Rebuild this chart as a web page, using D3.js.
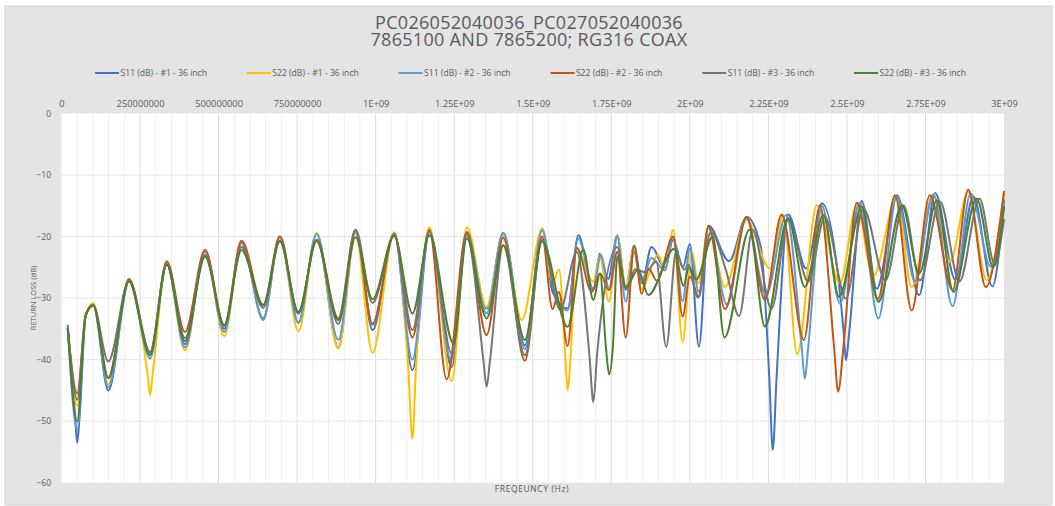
<!DOCTYPE html>
<html>
<head>
<meta charset="utf-8">
<script src="https://cdn.jsdelivr.net/npm/d3@7"></script>
<style>
  body { margin: 0; background: #ffffff; }
  text { font-family: "Open Sans", "DejaVu Sans", sans-serif; fill: #595959; }
</style>
</head>
<body>
<div id="chart"></div>
<script>
// titles and labels
var titleLines = ["PC026052040036_PC027052040036", "7865100 AND 7865200; RG316 COAX"];
var xTitle = "FREQEUNCY (Hz)";
var yTitle = "RETURN LOSS (dB)";
var xTickValues = [0, 250, 500, 750, 1000, 1250, 1500, 1750, 2000, 2250, 2500, 2750, 3000]; // MHz
var xTickLabels = ["0", "250000000", "500000000", "750000000", "1E+09", "1.25E+09", "1.5E+09",
                   "1.75E+09", "2E+09", "2.25E+09", "2.5E+09", "2.75E+09", "3E+09"];
var yTickValues = [0, -10, -20, -30, -40, -50, -60];
var seriesNames = ["S11 (dB) - #1 - 36 inch", "S22 (dB) - #1 - 36 inch", "S11 (dB) - #2 - 36 inch",
                   "S22 (dB) - #2 - 36 inch", "S11 (dB) - #3 - 36 inch", "S22 (dB) - #3 - 36 inch"];

// frequency (MHz) and return loss (dB) at turning points
// (plus a few flank points on the narrow dips)
var s11_1_freq = [20, 43, 50, 58, 77, 101, 149, 215, 282, 335, 393, 457, 518, 573, 642, 695, 754, 812, 881, 936, 990, 1059, 1117, 1171, 1242, 1290, 1353, 1406, 1475, 1530,
  1563, 1611, 1645, 1693, 1713, 1740, 1769, 1796, 1823, 1847, 1878, 1921, 1947, 1978, 2000, 2029, 2059, 2125, 2181, 2226, 2253, 2264, 2276, 2313, 2370, 2420, 2489, 2497, 2508, 2547, 2595, 2659, 2730, 2781, 2845, 2903, 2963, 3000];
var s11_1_db = [-34.5, -49, -53.5, -49, -32.8, -31.1, -45, -27.2, -39.3, -24.4, -37.5, -22.4, -35, -21, -33.3, -20, -34, -19.6, -38.1, -19, -35.2, -19.4, -41.7, -19.2, -41.2, -19.3, -31.7, -19.4, -37.7, -18.7,
  -29, -31.7, -19.8, -28.7, -22.8, -26.9, -19.8, -28.4, -21.5, -27.6, -21.7, -25.1, -20.5, -25, -21.2, -37.9, -18.2, -24, -16.8, -21.7, -43, -54.7, -43, -16.4, -25.2, -14.6, -35.2, -40.1, -35.2, -14.2, -28.5, -13.3, -29.5, -12.9, -27, -13.5, -28.1, -14.1];

var s22_1_freq = [20, 50, 77, 101, 149, 215, 274, 282, 290, 335, 393, 457, 518, 573, 642, 695, 754, 812, 881, 936, 990, 1059, 1104, 1117, 1128, 1171, 1242, 1290, 1353, 1406, 1465, 1530,
  1563, 1584, 1603, 1611, 1621, 1638, 1693, 1713, 1743, 1769, 1796, 1822, 1845, 1899, 1921, 1947, 1977, 2006, 2027, 2059, 2112, 2180, 2255, 2297, 2342, 2404, 2478, 2531, 2583, 2659, 2706, 2775, 2828, 2886, 2945, 3000];
var s22_1_db = [-35, -47.5, -32.8, -30.8, -44, -27.2, -42.5, -45.8, -42.5, -24.4, -38.5, -22.2, -36.2, -20.7, -33.6, -20, -35.4, -19.4, -38.2, -19.5, -38.9, -19.3, -41.7, -52.8, -41.7, -18.5, -43.5, -18.5, -31.5, -19.8, -33.6, -18.7,
  -27.5, -25.4, -39, -45, -39, -21.9, -27.3, -23.3, -30.6, -19.8, -28.2, -22, -28.5, -23, -25.5, -18.9, -37.1, -22.4, -27.6, -18.7, -28.2, -17.3, -25.2, -16.5, -39.1, -14.9, -27.6, -14.9, -26.5, -13.6, -28.2, -13.1, -24.1, -12.7, -27.1, -12.8];

var s11_2_freq = [20, 50, 77, 101, 149, 215, 282, 335, 393, 457, 518, 573, 642, 695, 754, 812, 881, 936, 990, 1059, 1117, 1171, 1240, 1290, 1353, 1406, 1475, 1530,
  1571, 1611, 1645, 1693, 1717, 1743, 1769, 1796, 1822, 1845, 1878, 1921, 1947, 1977, 2000, 2029, 2059, 2118, 2180, 2242, 2307, 2356, 2366, 2377, 2420, 2478, 2541, 2600, 2659, 2717, 2775, 2836, 2894, 2958, 3000];
var s11_2_db = [-34.8, -51.5, -32.8, -31.1, -44.5, -27.2, -39.8, -24.4, -38, -22.4, -35.5, -21, -33.5, -20, -34, -19.6, -36.8, -19.2, -34.4, -19.5, -40, -19.2, -40, -19.3, -32.5, -19.4, -38.3, -19,
  -29.5, -32, -20.3, -28.5, -23, -28.5, -20, -30.6, -22.5, -27.5, -23.5, -25.5, -20, -30.5, -22, -29, -18.5, -31, -17, -29.5, -16.5, -37.9, -43.1, -37.9, -15, -30.9, -14.5, -33.3, -13.5, -27.3, -13.2, -31.3, -13, -24.9, -15];

var s22_2_freq = [20, 50, 77, 101, 149, 215, 282, 335, 393, 457, 518, 573, 642, 695, 754, 812, 881, 936, 990, 1059, 1117, 1171, 1226, 1290, 1353, 1406, 1475, 1530,
  1563, 1583, 1611, 1640, 1688, 1714, 1743, 1769, 1796, 1823, 1847, 1869, 1895, 1947, 1977, 2000, 2029, 2059, 2112, 2181, 2239, 2292, 2363, 2414, 2459, 2472, 2489, 2531, 2599, 2653, 2706, 2764, 2836, 2886, 2942, 3000];
var s22_2_db = [-35, -45.5, -32.8, -31.1, -43, -26.9, -38.8, -24, -35.5, -22.2, -34.5, -20.7, -31.2, -20, -32.5, -20.5, -33.3, -18.9, -34.2, -19.6, -36.4, -18.9, -43.2, -19.3, -36, -20.2, -40.2, -20,
  -31.8, -29, -37.8, -21.8, -29, -26, -28.7, -22.5, -36.4, -21.5, -29.3, -25.2, -27.2, -20, -33, -26.5, -29.8, -18.3, -31.8, -16.8, -30.3, -16.4, -36.8, -15, -37.9, -45.2, -37.9, -14.5, -30.1, -13.3, -32, -13.3, -28.7, -12.4, -28.2, -12.7];

var s11_3_freq = [20, 50, 77, 101, 149, 215, 282, 335, 393, 457, 518, 573, 642, 695, 754, 812, 881, 936, 990, 1059, 1117, 1171, 1242, 1290, 1343, 1353, 1364, 1406, 1475, 1530,
  1587, 1640, 1680, 1693, 1705, 1769, 1797, 1826, 1858, 1893, 1925, 1956, 1982, 1995, 2026, 2067, 2115, 2157, 2200, 2260, 2313, 2377, 2430, 2497, 2552, 2623, 2680, 2733, 2796, 2858, 2922, 2970, 3000];
var s11_3_db = [-35, -46.5, -32.8, -31.2, -40.3, -27.2, -38.8, -24.4, -36.5, -23, -34.5, -21.7, -31.6, -20.6, -32.5, -20.7, -34.2, -18.9, -30.8, -19.8, -35.2, -19.2, -39, -19.8, -40.1, -44.4, -40.1, -21.4, -39.3, -20.5,
  -31.9, -22.5, -39, -46.9, -39, -21.7, -28.7, -25.3, -25.8, -24.1, -37.9, -22.5, -25.4, -24.6, -29.9, -19.2, -25.5, -32.9, -18.9, -31.7, -17.3, -27.3, -16.8, -30.1, -15.4, -27.1, -14.9, -27.1, -14.3, -27.3, -13.8, -24.4, -17.3];

var s22_3_freq = [20, 50, 77, 101, 149, 215, 282, 335, 393, 457, 518, 573, 642, 695, 754, 812, 881, 936, 990, 1059, 1117, 1171, 1248, 1290, 1353, 1406, 1475, 1530,
  1611, 1661, 1693, 1714, 1733, 1743, 1755, 1769, 1797, 1835, 1868, 1950, 1980, 1997, 2020, 2073, 2110, 2190, 2239, 2313, 2366, 2425, 2475, 2547, 2600, 2675, 2730, 2786, 2839, 2913, 2966, 3000];
var s22_3_db = [-35, -50, -32.8, -31.2, -43, -27.3, -39.2, -24.6, -37, -23.3, -34.4, -22.2, -31.1, -20.8, -32.2, -20.7, -33.6, -20.1, -30.2, -19.9, -32.5, -19.8, -37.4, -20.3, -33.3, -21.4, -36.8, -20.8,
  -34.7, -22.1, -30.3, -26, -38, -42.4, -38, -23.3, -28.2, -25.4, -29.5, -22, -28, -25, -27, -20, -36.4, -18.9, -34.6, -17, -28.2, -16.5, -29.8, -15.2, -30.6, -14.9, -26, -14.1, -29, -13.8, -25, -15.2];

var seriesColors = ["#4472C4", "#FFC000", "#5B9BD5", "#C0561A", "#767676", "#4E7F30"];

var series = [
  { name: seriesNames[0], freq: s11_1_freq, db: s11_1_db, color: seriesColors[0] },
  { name: seriesNames[1], freq: s22_1_freq, db: s22_1_db, color: seriesColors[1] },
  { name: seriesNames[2], freq: s11_2_freq, db: s11_2_db, color: seriesColors[2] },
  { name: seriesNames[3], freq: s22_2_freq, db: s22_2_db, color: seriesColors[3] },
  { name: seriesNames[4], freq: s11_3_freq, db: s11_3_db, color: seriesColors[4] },
  { name: seriesNames[5], freq: s22_3_freq, db: s22_3_db, color: seriesColors[5] }
];

var outerWidth = 1055, outerHeight = 506;
var margin = { top: 113.5, right: 51, bottom: 23.3, left: 61.5 };
var innerWidth = outerWidth - margin.left - margin.right;
var innerHeight = outerHeight - margin.top - margin.bottom;

var svg = d3.select("#chart").append("svg")
  .attr("width", outerWidth)
  .attr("height", outerHeight);

// chart area
svg.append("rect")
  .attr("x", 5).attr("y", 6)
  .attr("width", 1047).attr("height", 499)
  .attr("fill", "#e4e4e4")
  .attr("stroke", "#d4d4d4");

var g = svg.append("g")
  .attr("transform", "translate(" + margin.left + "," + margin.top + ")");

var xScale = d3.scaleLinear().domain([0, 3000]).range([0, innerWidth]);
var yScale = d3.scaleLinear().domain([-60, 0]).range([innerHeight, 0]);

// plot area
g.append("rect")
  .attr("width", innerWidth).attr("height", innerHeight)
  .attr("fill", "#ffffff");

// minor vertical grid every 50 MHz
g.append("g").selectAll("line")
  .data(d3.range(50, 3000, 50).filter(function(d) { return d % 250 !== 0; }))
  .enter().append("line")
  .attr("x1", function(d) { return xScale(d); })
  .attr("x2", function(d) { return xScale(d); })
  .attr("y1", 0).attr("y2", innerHeight)
  .attr("stroke", "#efefef").attr("stroke-width", 1);

// major vertical grid
g.append("g").selectAll("line")
  .data(xTickValues.slice(1, -1))
  .enter().append("line")
  .attr("x1", function(d) { return xScale(d); })
  .attr("x2", function(d) { return xScale(d); })
  .attr("y1", 0).attr("y2", innerHeight)
  .attr("stroke", "#dadada").attr("stroke-width", 1);

// horizontal grid
g.append("g").selectAll("line")
  .data(yTickValues.slice(1, -1))
  .enter().append("line")
  .attr("x1", 0).attr("x2", innerWidth)
  .attr("y1", function(d) { return yScale(d); })
  .attr("y2", function(d) { return yScale(d); })
  .attr("stroke", "#e6e6e6").attr("stroke-width", 1);

// axes (labels only)
var xAxis = d3.axisTop(xScale)
  .tickValues(xTickValues)
  .tickFormat(function(d, i) { return xTickLabels[i]; })
  .tickSize(0).tickPadding(7);

var yAxis = d3.axisLeft(yScale)
  .tickValues(yTickValues)
  .tickSize(0).tickPadding(10.5);

g.append("g").attr("class", "x axis").call(xAxis);
g.append("g").attr("class", "y axis").call(yAxis);

g.selectAll(".x.axis text")
  .style("font-family", "'Open Sans', sans-serif")
  .style("font-size", "9.3px")
  .attr("fill", "#595959");
g.selectAll(".y.axis text")
  .style("font-family", "'Open Sans', sans-serif")
  .style("font-size", "8.5px")
  .attr("fill", "#595959");
g.selectAll(".domain").remove();

// lines
var line = d3.line()
  .x(function(d) { return xScale(d[0]); })
  .y(function(d) { return yScale(d[1]); })
  .curve(d3.curveMonotoneX);

series.forEach(function(s) {
  var pts = s.freq.map(function(f, i) { return [f, s.db[i]]; });
  g.append("path")
    .datum(pts)
    .attr("fill", "none")
    .attr("stroke", s.color)
    .attr("stroke-width", 2)
    .attr("stroke-linejoin", "round")
    .attr("stroke-linecap", "round")
    .attr("d", line);
});

// title (one text, two lines)
var title = svg.append("text")
  .attr("class", "title")
  .attr("text-anchor", "middle")
  .style("font-size", "18px")
  .style("letter-spacing", "0.3px");

title.selectAll("tspan")
  .data(titleLines)
  .enter().append("tspan")
  .attr("x", 529)
  .attr("y", function(d, i) { return 29 + i * 17; })
  .text(function(d) { return d; });

// legend
var legend = svg.append("g").selectAll("g")
  .data(series)
  .enter().append("g")
  .attr("transform", function(d, i) { return "translate(" + (95 + i * 151.8) + ",73)"; });

legend.append("line")
  .attr("x1", 0).attr("x2", 24)
  .attr("y1", 0).attr("y2", 0)
  .attr("stroke", function(d) { return d.color; })
  .attr("stroke-width", 2);

legend.append("text")
  .attr("x", 25.5).attr("y", 3)
  .style("font-size", "8.6px")
  .text(function(d) { return d.name; });

// axis titles
svg.append("text")
  .attr("x", 532).attr("y", 492)
  .attr("text-anchor", "middle")
  .style("font-size", "8.5px")
  .style("letter-spacing", "0.6px")
  .text(xTitle);

svg.append("text")
  .attr("transform", "translate(36,298) rotate(-90)")
  .attr("text-anchor", "middle")
  .style("font-size", "7.5px")
  .text(yTitle);
</script>
</body>
</html>
